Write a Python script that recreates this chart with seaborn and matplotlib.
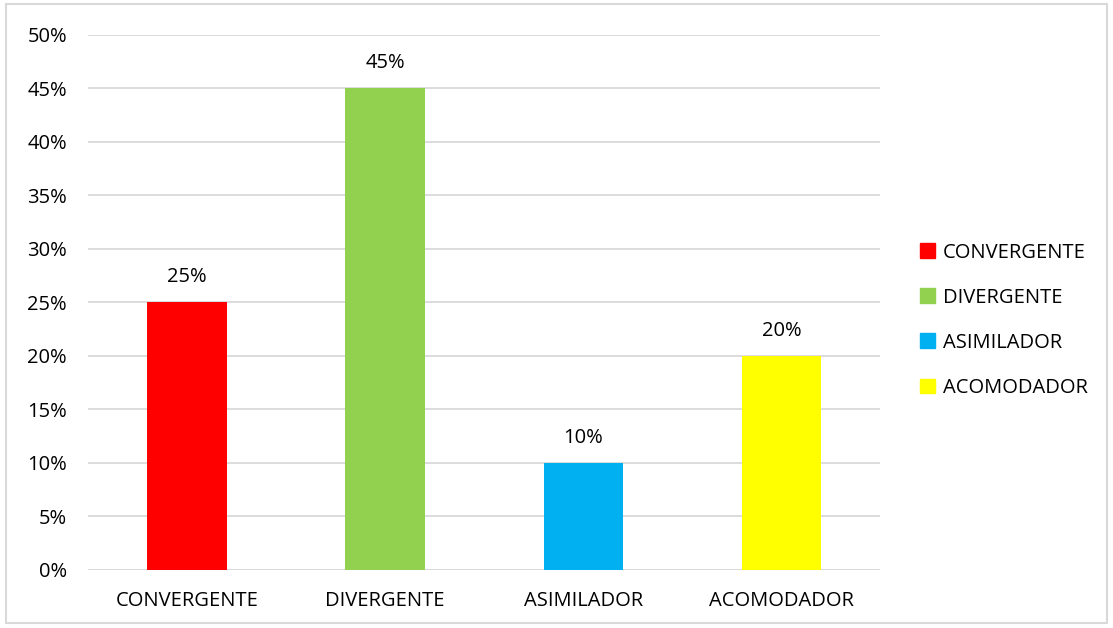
import matplotlib
matplotlib.use("Agg")
import matplotlib.pyplot as plt
import matplotlib.patches as mpatches
import seaborn as sns
import pandas as pd

categories = ["CONVERGENTE", "DIVERGENTE", "ASIMILADOR", "ACOMODADOR"]
values = [25, 45, 10, 20]
colors = ["#FF0000", "#92D050", "#00B0F0", "#FFFF00"]
yticks = [0, 5, 10, 15, 20, 25, 30, 35, 40, 45, 50]

df = pd.DataFrame({"estilo": categories, "pct": values})

sns.set_style("white")
plt.rcParams["font.family"] = ["Open Sans", "DejaVu Sans"]
plt.rcParams["text.color"] = "black"
plt.rcParams["xtick.color"] = "black"
plt.rcParams["ytick.color"] = "black"

fig = plt.figure(figsize=(11.13, 6.28), dpi=100)
ax = fig.add_axes([0.079, 0.0924, 0.712, 0.852])

sns.barplot(data=df, x="estilo", y="pct", hue="estilo", palette=colors,
            saturation=1, dodge=False, width=0.4, legend=False, ax=ax,
            linewidth=0, zorder=3)

ax.set_ylim(0, 50)
ax.set_yticks(yticks)
ax.set_yticklabels([f"{t}%" for t in yticks], fontsize=14.5)
ax.tick_params(axis="x", labelsize=14.5, length=0, pad=15)
ax.tick_params(axis="y", length=0, pad=15)
ax.set_xlabel("")
ax.set_ylabel("")
ax.grid(axis="y", color="#D9D9D9", linewidth=1.3, zorder=0)
for s in ax.spines.values():
    s.set_visible(False)
ax.axhline(0, color="#D9D9D9", linewidth=1.3, zorder=2)

for i, v in enumerate(values):
    ax.text(i, v + 1.4, f"{v}%", ha="center", va="bottom", fontsize=14.5)

handles = [mpatches.Patch(color=c, label=n) for n, c in zip(categories, colors)]
fig.legend(handles=handles, loc="center left", bbox_to_anchor=(0.81, 0.49),
           frameon=False, fontsize=14.5, handlelength=0.75, handleheight=0.75,
           handletextpad=0.4, labelspacing=1.25)

fig.patches.append(mpatches.Rectangle((0.005, 0.008), 0.99, 0.985, transform=fig.transFigure,
                                      fill=False, edgecolor="#D9D9D9", linewidth=1.5))

fig.savefig("out.png", dpi=100)
